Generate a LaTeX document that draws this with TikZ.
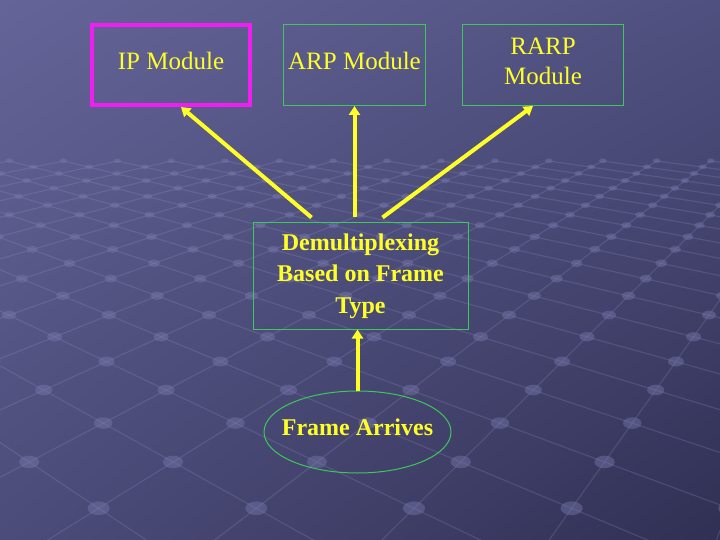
\documentclass[tikz,border=0pt]{standalone}
\usepackage{fontspec}
\setmainfont{Liberation Serif}
\usetikzlibrary{
  arrows.meta, % for the triangle tips
  shadings,
  shapes.geometric}
\definecolor{bgul}{RGB}{100,100,152}
\definecolor{bgur}{RGB}{80,80,128}
\definecolor{bgll}{RGB}{76,76,122}
\definecolor{bglr}{RGB}{48,48,84}
\definecolor{floorline}{RGB}{150,150,200}
\definecolor{floordot}{RGB}{120,120,172}
\definecolor{labelyellow}{RGB}{255,255,40}
\definecolor{framegreen}{RGB}{60,200,90}
\definecolor{ipmagenta}{RGB}{240,30,240}
\tikzstyle{gridline} = [draw=floorline, line width=1.2pt, opacity=.22]
\tikzstyle{griddot} = [fill=floordot, opacity=.45]
\tikzstyle{module} = [draw=framegreen, line width=1pt, text=labelyellow, align=center,
  inner sep=0pt, font=\fontsize{25}{30}\selectfont]
\tikzstyle{toprow} = [text depth=8pt]
\tikzstyle{ipmodule} = [module, toprow, draw=ipmagenta, line width=4pt, minimum width=158pt, minimum height=80pt]
\tikzstyle{wide} = [toprow, minimum width=161pt, minimum height=81pt]
\tikzstyle{narrow} = [toprow, minimum width=142pt, minimum height=81pt]
\tikzstyle{demux} = [module, minimum width=215pt, minimum height=106pt,
  font=\fontsize{24}{31.5}\selectfont\bfseries]
\tikzstyle{arrival} = [module, ellipse, minimum width=187pt, minimum height=82pt, text depth=10pt,
  font=\fontsize{24}{30}\selectfont\bfseries]
\tikzstyle{feed} = [->, draw=labelyellow, line width=4pt]

\begin{document}
\begin{tikzpicture}[x=1pt, y=-1pt, >={Triangle[length=9pt,width=11pt]}]

\shade[upper left=bgul, upper right=bgur, lower left=bgll, lower right=bglr]
  (0,0) rectangle (720,540);
\useasboundingbox (0,0) rectangle (720,540);

% floor of the slide background
\begin{scope}
\clip (0,0) rectangle (720,540);
\foreach \j in {-4,...,20} {
  \pgfmathsetmacro{\xa}{127+53.94*(\j-8.18)}
  \pgfmathsetmacro{\xb}{127+195.2*(\j+2.82)}
  \draw[gridline] (\xa,161) -- (\xb,634);
}
\foreach \j in {-10,...,8} {
  \pgfmathsetmacro{\xa}{127+53.94*(\j+6.82)}
  \pgfmathsetmacro{\xb}{127+195.2*(\j-4.18)}
  \draw[gridline] (\xa,161) -- (\xb,634);
}
\foreach \k in {-14,...,8} {
  \pgfmathsetmacro{\Y}{10000/(29.85-1.82*\k)}
  \foreach \j in {-20,...,20} {
    \pgfmathsetmacro{\xd}{127+0.2985*\Y*(-0.18+0.5*\k+\j)}
    \fill[griddot] (\xd,\Y-20) ellipse ({0.021*\Y} and {0.013*\Y});
  }
}
\end{scope}

\node[ipmodule] (ip) at (171,65) {IP Module};
\node[module,narrow,right of=ip,node distance=183.5pt] (arp) {ARP Module};
\node[module,wide,right of=arp,node distance=188.5pt] (rarp) {RARP\\Module};
\node[demux] (demux) at (360.5,276) {Demultiplexing\\Based on Frame\\Type};
\node[arrival,below of=demux,node distance=156pt,xshift=-3pt] (frame) {\makebox[0pt]{Frame Arrives}};

\draw[feed] ([xshift=-49pt,yshift=5pt]demux.north) -- ([xshift=10pt]ip.south);
\draw[feed] ([yshift=5pt]demux.north -| arp.south) -- (arp.south);
\draw[feed] ([xshift=22pt,yshift=5pt]demux.north) -- ([xshift=-10pt]rarp.south);
\draw[feed] (frame.north) -- (frame.north |- demux.south);

\end{tikzpicture}
\end{document}
